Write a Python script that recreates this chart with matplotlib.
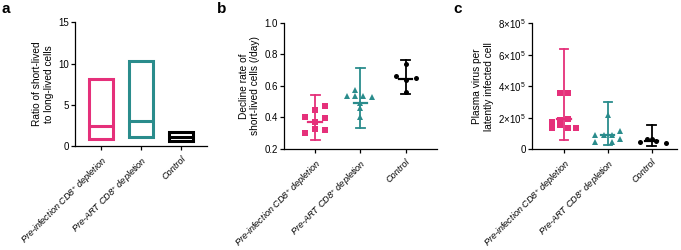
import matplotlib
matplotlib.use("Agg")
import matplotlib.pyplot as plt
import numpy as np

plt.rcParams['font.family'] = ['Liberation Sans', 'DejaVu Sans']
plt.rcParams['mathtext.fontset'] = 'custom'
plt.rcParams['mathtext.rm'] = 'Liberation Sans'
plt.rcParams['mathtext.it'] = 'Liberation Sans:italic'

groups = ['Pre-infection CD8$^{+}$ depletion', 'Pre-ART CD8$^{+}$ depletion', 'Control']
colors = ['#E5307A', '#2A8C8C', '#000000']
markers = ['s', '^', 'o']

# panel a: floating bars (min, max, median)
ratio_min = [0.85, 1.1, 0.55]
ratio_max = [8.1, 10.3, 1.7]
ratio_med = [2.45, 3.05, 1.15]

# panel b: decline rate of short-lived cells (/day)
decline_pre_inf = [0.405, 0.299, 0.447, 0.373, 0.327, 0.472, 0.394, 0.320]
decline_pre_inf_jit = [-0.22, -0.22, 0, 0, 0, 0.22, 0.22, 0.22]
decline_pre_art = [0.538, 0.576, 0.538, 0.538, 0.531, 0.489, 0.458, 0.405]
decline_pre_art_jit = [-0.29, -0.11, -0.11, 0.07, 0.26, 0, 0, 0]
decline_ctrl = [0.664, 0.738, 0.648, 0.637, 0.559]
decline_ctrl_jit = [-0.21, 0, 0.23, 0, 0]
decline_center = [0.373, 0.489, 0.641]
decline_lo = [0.257, 0.335, 0.546]
decline_hi = [0.544, 0.715, 0.764]

# panel c: plasma virus per latently infected cell
virus_pre_inf = [3.59e5, 3.59e5, 1.75e5, 1.33e5, 1.86e5, 1.54e5, 1.92e5, 1.33e5, 1.33e5]
virus_pre_inf_jit = [-0.09, 0.09, -0.27, -0.27, -0.09, -0.09, 0.09, 0.09, 0.27]
virus_pre_art = [0.91e5, 0.48e5, 2.18e5, 0.91e5, 0.91e5, 0.48e5, 1.15e5, 0.62e5]
virus_pre_art_jit = [-0.29, -0.29, 0, -0.09, 0.09, 0.09, 0.27, 0.27]
virus_ctrl = [0.44e5, 0.63e5, 0.63e5, 0.55e5, 0.38e5]
virus_ctrl_jit = [-0.27, -0.11, 0, 0.1, 0.32]
virus_center = [1.92e5, 0.91e5, 0.55e5]
virus_lo = [0.59e5, 0.25e5, 0.21e5]
virus_hi = [6.37e5, 2.98e5, 1.54e5]

fig = plt.figure(figsize=(6.81, 2.5), dpi=100)
axa = fig.add_axes([0.110, 0.416, 0.1934, 0.495])
axb = fig.add_axes([0.4175, 0.404, 0.2238, 0.505])
axc = fig.add_axes([0.781, 0.403, 0.213, 0.504])


def style(ax):
    for s in ['top', 'right']:
        ax.spines[s].set_visible(False)
    for s in ['left', 'bottom']:
        ax.spines[s].set_linewidth(0.9)
    ax.tick_params(axis='both', labelsize=7, width=0.9, length=3, pad=1.5)
    ax.tick_params(axis='x', pad=3)
    ax.set_xticks(range(3))
    ax.set_xticklabels(groups, rotation=45, ha='right', rotation_mode='anchor', fontsize=6.6, style='italic')


x = np.arange(3)

# panel a
for i in range(3):
    axa.bar(x[i], ratio_max[i] - ratio_min[i], bottom=ratio_min[i], width=0.62,
            fill=False, edgecolor=colors[i], linewidth=2.2)
    axa.plot([x[i] - 0.31, x[i] + 0.31], [ratio_med[i]] * 2, color=colors[i], lw=2.2,
             solid_capstyle='butt')
axa.set_xlim(-0.65, 2.64)
axa.set_ylim(0, 15)
axa.set_yticks([0, 5, 10, 15])
axa.set_ylabel('Ratio of short-lived\nto long-lived cells', fontsize=7.3, labelpad=3)
style(axa)


def dots(ax, data, jits, center, lo, hi):
    for i in range(3):
        ax.plot([x[i], x[i]], [lo[i], hi[i]], color=colors[i], lw=1.3, zorder=2, clip_on=False)
        for yv in (lo[i], hi[i]):
            ax.plot([x[i] - 0.1, x[i] + 0.1], [yv, yv], color=colors[i], lw=1.3, zorder=2, clip_on=False)
        ax.plot([x[i] - 0.15, x[i] + 0.15], [center[i]] * 2, color=colors[i], lw=1.6, zorder=3)
        ax.plot(x[i] + np.array(jits[i]), data[i], linestyle='none', marker=markers[i],
                color=colors[i], markersize=3.8 if i < 2 else 3.6, markeredgewidth=0,
                zorder=4, clip_on=False)


# panel b
dots(axb, [decline_pre_inf, decline_pre_art, decline_ctrl],
     [decline_pre_inf_jit, decline_pre_art_jit, decline_ctrl_jit],
     decline_center, decline_lo, decline_hi)
axb.set_xlim(-0.68, 2.69)
axb.set_ylim(0.2, 1.0)
axb.set_yticks([0.2, 0.4, 0.6, 0.8, 1.0])
axb.set_yticklabels(['0.2', '0.4', '0.6', '0.8', '1.0'])
axb.set_ylabel('Decline rate of\nshort-lived cells (/day)', fontsize=7.3, labelpad=3)
style(axb)

# panel c
dots(axc, [virus_pre_inf, virus_pre_art, virus_ctrl],
     [virus_pre_inf_jit, virus_pre_art_jit, virus_ctrl_jit],
     virus_center, virus_lo, virus_hi)
axc.set_xlim(-0.73, 2.57)
axc.set_ylim(0, 8e5)
axc.set_yticks([0, 2e5, 4e5, 6e5, 8e5])
axc.set_yticklabels(['0', '2×10$^5$', '4×10$^5$', '6×10$^5$', '8×10$^5$'])
axc.set_ylabel('Plasma virus per\nlatently infected cell', fontsize=7.3, labelpad=3)
style(axc)

fig.text(0.002, 0.965, 'a', fontsize=11, fontweight='bold', va='center')
fig.text(0.318, 0.965, 'b', fontsize=11, fontweight='bold', va='center')
fig.text(0.666, 0.965, 'c', fontsize=11, fontweight='bold', va='center')

fig.savefig('out.png', dpi=100)
